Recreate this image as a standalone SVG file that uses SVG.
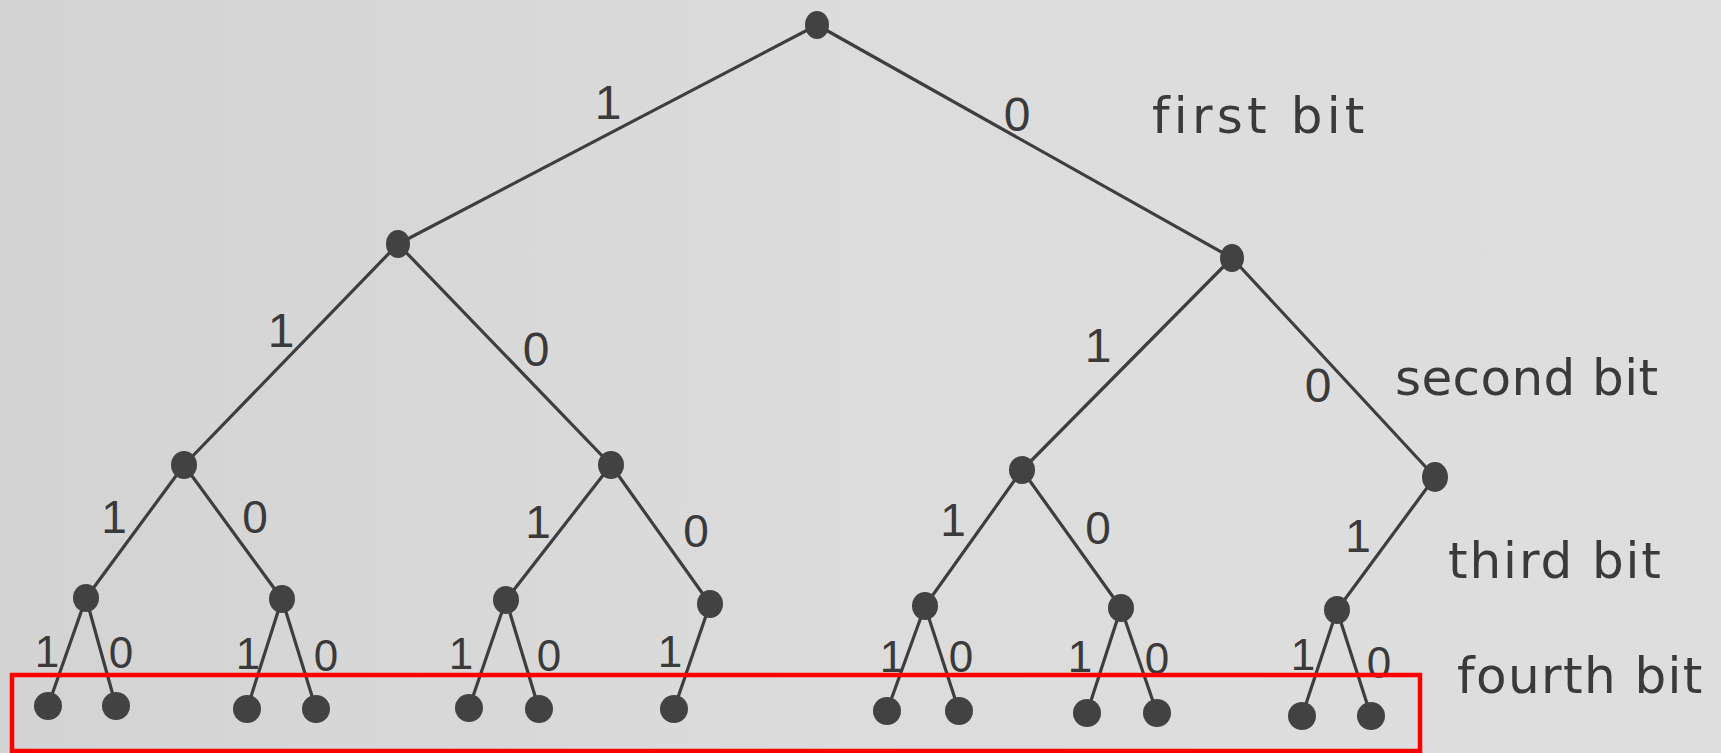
<svg xmlns="http://www.w3.org/2000/svg" width="1721" height="753" viewBox="0 0 1721 753">
<defs>
<linearGradient id="paper" x1="0" y1="0" x2="1" y2="0">
<stop offset="0" stop-color="#d3d3d3"/>
<stop offset="0.5" stop-color="#dcdcdc"/>
<stop offset="1" stop-color="#dedede"/>
</linearGradient>
<style>
.edge{stroke:#3e3e3e;stroke-width:3.2;fill:none;stroke-linecap:round}
.node{fill:#424242}
.lbl{font-family:"Liberation Sans",Arial,sans-serif;fill:#3a3a3a;text-anchor:middle}
.d1{font-size:48px}
.d3{font-size:46px}
.d4{font-size:44px}
.bit{font-family:"DejaVu Sans","Liberation Sans",sans-serif;font-size:50px;fill:#3a3a3a;font-variant-ligatures:none;font-feature-settings:"liga" 0}
.hl{fill:none;stroke:#ff0000;stroke-width:4.5}
</style>
</defs>
<rect x="0" y="0" width="1721" height="753" fill="url(#paper)"/>

<g id="connectors">
<line class="edge" x1="817" y1="25" x2="398" y2="244"/>
<line class="edge" x1="817" y1="25" x2="1232" y2="258"/>
<line class="edge" x1="398" y1="244" x2="184" y2="465"/>
<line class="edge" x1="398" y1="244" x2="611" y2="465"/>
<line class="edge" x1="1232" y1="258" x2="1022" y2="470"/>
<line class="edge" x1="1232" y1="258" x2="1435" y2="477"/>
<line class="edge" x1="184" y1="465" x2="86" y2="598"/>
<line class="edge" x1="184" y1="465" x2="282" y2="599"/>
<line class="edge" x1="611" y1="465" x2="506" y2="600"/>
<line class="edge" x1="611" y1="465" x2="710" y2="604"/>
<line class="edge" x1="1022" y1="470" x2="925" y2="606"/>
<line class="edge" x1="1022" y1="470" x2="1121" y2="608"/>
<line class="edge" x1="1435" y1="477" x2="1337" y2="610"/>
<line class="edge" x1="86" y1="598" x2="48" y2="706"/>
<line class="edge" x1="86" y1="598" x2="116" y2="706"/>
<line class="edge" x1="282" y1="599" x2="247" y2="709"/>
<line class="edge" x1="282" y1="599" x2="316" y2="709"/>
<line class="edge" x1="506" y1="600" x2="469" y2="708"/>
<line class="edge" x1="506" y1="600" x2="539" y2="709"/>
<line class="edge" x1="710" y1="604" x2="674" y2="709"/>
<line class="edge" x1="925" y1="606" x2="887" y2="711"/>
<line class="edge" x1="925" y1="606" x2="959" y2="711"/>
<line class="edge" x1="1121" y1="608" x2="1087" y2="713"/>
<line class="edge" x1="1121" y1="608" x2="1157" y2="713"/>
<line class="edge" x1="1337" y1="610" x2="1302" y2="716"/>
<line class="edge" x1="1337" y1="610" x2="1371" y2="716"/>
<text class="lbl d1" x="608" y="119">1</text>
<text class="lbl d1" x="1017" y="131">0</text>
<text class="lbl d1" x="281" y="347">1</text>
<text class="lbl d1" x="536" y="366">0</text>
<text class="lbl d1" x="1098" y="362">1</text>
<text class="lbl d1" x="1318" y="402">0</text>
<text class="lbl d3" x="114" y="533">1</text>
<text class="lbl d3" x="255" y="533">0</text>
<text class="lbl d3" x="538" y="538">1</text>
<text class="lbl d3" x="696" y="547">0</text>
<text class="lbl d3" x="953" y="536">1</text>
<text class="lbl d3" x="1098" y="544">0</text>
<text class="lbl d3" x="1358" y="552">1</text>
<text class="lbl d4" x="47" y="667">1</text>
<text class="lbl d4" x="121" y="668">0</text>
<text class="lbl d4" x="248" y="669">1</text>
<text class="lbl d4" x="326" y="671">0</text>
<text class="lbl d4" x="461" y="669">1</text>
<text class="lbl d4" x="549" y="671">0</text>
<text class="lbl d4" x="670" y="667">1</text>
<text class="lbl d4" x="892" y="672">1</text>
<text class="lbl d4" x="961" y="672">0</text>
<text class="lbl d4" x="1080" y="672">1</text>
<text class="lbl d4" x="1157" y="674">0</text>
<text class="lbl d4" x="1303" y="670">1</text>
<text class="lbl d4" x="1379" y="678">0</text>
</g>

<g id="root"><ellipse class="node" cx="817" cy="25" rx="12" ry="14"/></g>
<g id="n1"><ellipse class="node" cx="398" cy="244" rx="12" ry="14"/></g>
<g id="n0"><ellipse class="node" cx="1232" cy="258" rx="12" ry="14"/></g>
<g id="n11"><ellipse class="node" cx="184" cy="465" rx="13" ry="14"/></g>
<g id="n10"><ellipse class="node" cx="611" cy="465" rx="13" ry="14"/></g>
<g id="n01"><ellipse class="node" cx="1022" cy="470" rx="13" ry="14"/></g>
<g id="n00"><ellipse class="node" cx="1435" cy="477" rx="13" ry="15"/></g>
<g id="n111"><ellipse class="node" cx="86" cy="598" rx="13" ry="14"/></g>
<g id="n110"><ellipse class="node" cx="282" cy="599" rx="13" ry="14"/></g>
<g id="n101"><ellipse class="node" cx="506" cy="600" rx="13" ry="14"/></g>
<g id="n100"><ellipse class="node" cx="710" cy="604" rx="13" ry="14"/></g>
<g id="n011"><ellipse class="node" cx="925" cy="606" rx="13" ry="14"/></g>
<g id="n010"><ellipse class="node" cx="1121" cy="608" rx="13" ry="14"/></g>
<g id="n001"><ellipse class="node" cx="1337" cy="610" rx="13" ry="14"/></g>
<g id="n1111"><circle class="node" cx="48" cy="706" r="14"/></g>
<g id="n1110"><circle class="node" cx="116" cy="706" r="14"/></g>
<g id="n1101"><circle class="node" cx="247" cy="709" r="14"/></g>
<g id="n1100"><circle class="node" cx="316" cy="709" r="14"/></g>
<g id="n1011"><circle class="node" cx="469" cy="708" r="14"/></g>
<g id="n1010"><circle class="node" cx="539" cy="709" r="14"/></g>
<g id="n1001"><circle class="node" cx="674" cy="709" r="14"/></g>
<g id="n0111"><circle class="node" cx="887" cy="711" r="14"/></g>
<g id="n0110"><circle class="node" cx="959" cy="711" r="14"/></g>
<g id="n0101"><circle class="node" cx="1087" cy="713" r="14"/></g>
<g id="n0100"><circle class="node" cx="1157" cy="713" r="14"/></g>
<g id="n0011"><circle class="node" cx="1302" cy="716" r="14"/></g>
<g id="n0010"><circle class="node" cx="1371" cy="716" r="14"/></g>

<g id="level-labels">
<text class="bit" x="1152" y="133" letter-spacing="4.2">first bit</text>
<text class="bit" x="1395" y="395" letter-spacing="0.4">second bit</text>
<text class="bit" x="1448" y="578" letter-spacing="1.9">third bit</text>
<text class="bit" x="1457" y="693" letter-spacing="1.4">fourth bit</text>
</g>

<g id="highlight"><rect class="hl" x="12" y="675" width="1408" height="76"/></g>
</svg>
